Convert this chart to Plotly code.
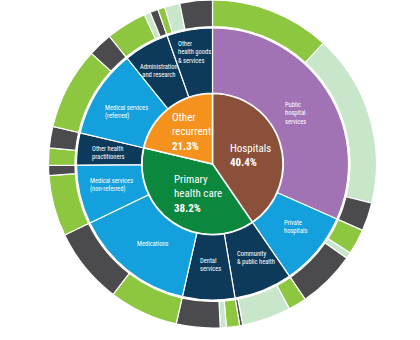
import plotly.graph_objects as go

# ---------------- data ----------------
categories = ["Hospitals", "Primary health care", "Other recurrent"]
category_share = [40.4, 38.2, 21.3]

subcategories = [
    "Public hospital services", "Private hospitals",
    "Community & public health", "Dental services", "Medications",
    "Medical services (non-referred)", "Other health practitioners",
    "Medical services (referred)", "Administration and research",
    "Other health goods & services",
]
sub_parent = ["Hospitals", "Hospitals",
              "Primary health care", "Primary health care", "Primary health care",
              "Primary health care", "Primary health care",
              "Other recurrent", "Other recurrent", "Other recurrent"]
sub_share = [31.6, 8.8, 6.9, 6.2, 14.3, 7.0, 3.8, 10.5, 5.4, 5.4]

funders = ["Australian Government", "State and territory governments", "Non-government"]
fund_australian_gov = [11.8, 2.5, 1.8, 1.3, 6.8, 6.0, 1.7, 8.1, 4.0, 0.7]
fund_state_territory = [17.0, 0.6, 4.8, 0.6, 0.0, 0.0, 0.0, 0.0, 0.6, 1.5]
fund_non_government = [2.8, 5.7, 0.3, 4.3, 7.5, 1.0, 2.1, 2.4, 0.8, 3.2]

# display text (line breaks as in the reference)
category_display = ["Hospitals", "Primary<br>health care", "Other<br>recurrent"]
sub_display = [
    "Public<br>hospital<br>services", "Private<br>hospitals",
    "Community<br>& public health", "Dental<br>services", "Medications",
    "Medical services<br>(non-referred)", "Other health<br>practitioners",
    "Medical services<br>(referred)", "Administration<br>and research",
    "Other<br>health goods<br>& services",
]

# ---------------- style ----------------
W, H = 420, 340
CX, CY = 212.5, 164.0
R_IN, R_MID_HOLE, R_MID, R_OUT_HOLE, R_OUT = 70.5, 71.0, 136.0, 137.5, 164.0

cat_colors = {"Hospitals": "#8b503a", "Primary health care": "#0b873e",
              "Other recurrent": "#f5921e"}
PURPLE, BLUE, NAVY = "#a172b4", "#14a0dc", "#0d3a5a"
sub_colors = [PURPLE, BLUE, NAVY, NAVY, BLUE, BLUE, NAVY, BLUE, NAVY, NAVY]
fund_colors = {"Australian Government": "#8dc63f",
               "State and territory governments": "#c8e6c9",
               "Non-government": "#4b4b4d"}
FONT = "Liberation Sans Narrow, Arial Narrow, Roboto Condensed, Roboto, Arial, sans-serif"


def dom(r):
    return dict(x=[(CX - r) / W, (CX + r) / W],
                y=[(H - CY - r) / H, (H - CY + r) / H])


fig = go.Figure()

# inner pie
fig.add_trace(go.Pie(
    labels=categories, values=category_share, sort=False,
    direction="clockwise", rotation=0, textinfo="none", hoverinfo="skip",
    marker=dict(colors=[cat_colors[c] for c in categories],
                line=dict(color="white", width=1.5)),
    domain=dom(R_IN), showlegend=False))

# middle ring
fig.add_trace(go.Pie(
    labels=subcategories, values=sub_share, sort=False, hole=R_MID_HOLE / R_MID,
    direction="clockwise", rotation=0, textinfo="none", hoverinfo="skip",
    marker=dict(colors=sub_colors, line=dict(color="white", width=1.2)),
    domain=dom(R_MID), showlegend=False))

# outer ring
o_labels, o_values, o_colors = [], [], []
for i, s in enumerate(subcategories):
    for f, arr in zip(funders, [fund_australian_gov, fund_state_territory, fund_non_government]):
        if arr[i] > 0:
            o_labels.append(f"{s} — {f}")
            o_values.append(arr[i])
            o_colors.append(fund_colors[f])
fig.add_trace(go.Pie(
    labels=o_labels, values=o_values, sort=False, hole=R_OUT_HOLE / R_OUT,
    direction="clockwise", rotation=0, textinfo="none", hoverinfo="skip",
    marker=dict(colors=o_colors, line=dict(color="white", width=1.2)),
    domain=dom(R_OUT), showlegend=False))

annotations = []


def add_label(text, x, yc, size, anchor="left"):
    annotations.append(dict(
        x=x / W, y=1 - yc / H, xref="paper", yref="paper",
        text=text, showarrow=False, xanchor=anchor, yanchor="middle",
        align=anchor, font=dict(family=FONT, size=size, color="white")))


# inner labels: (left x, block centre y)
inner_pos = {"Hospitals": (228, 155.5), "Other recurrent": (170, 132),
             "Primary health care": (172, 193.5)}
for c, disp, v in zip(categories, category_display, category_share):
    x, yc = inner_pos[c]
    add_label(f"{disp}<br><b>{v:.1f}%</b>", x, yc, 11)

# middle labels: (x, block centre y, anchor)
sub_pos = [
    (283, 114, "left"), (282, 227, "left"), (235, 257.7, "left"),
    (198, 264.5, "left"), (135, 243.7, "left"), (88, 185.5, "left"),
    (90, 153, "left"), (103, 112.5, "left"), (158.5, 70.8, "center"),
    (176, 52, "left"),
]
for txt, (x, yc, anc) in zip(sub_display, sub_pos):
    add_label(txt, x, yc, 6.5, anchor=anc)

fig.update_layout(
    width=W, height=H, margin=dict(l=0, r=0, t=0, b=0),
    paper_bgcolor="white", plot_bgcolor="white",
    annotations=annotations, showlegend=False)

fig.write_html("out.html")
